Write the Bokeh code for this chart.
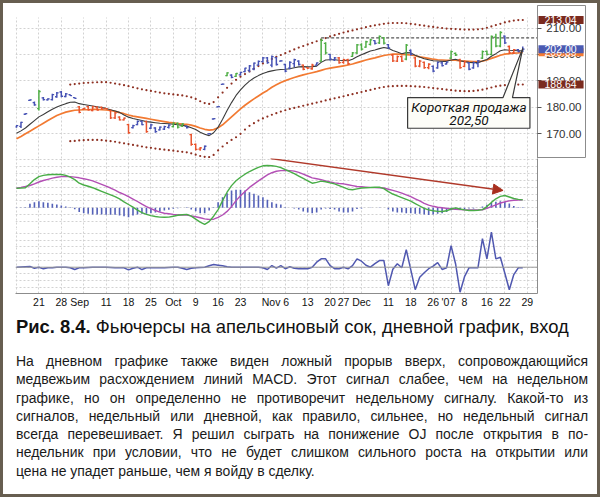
from bokeh.plotting import figure
from bokeh.models import (ColumnDataSource, Range1d, FixedTicker, PrintfTickFormatter,
                          Label, Arrow, NormalHead, Span, Div)
from bokeh.layouts import column, row
from bokeh.embed import file_html
from bokeh.resources import INLINE

# ---------------- data ----------------
tick_index = [5, 10, 14.1, 20, 25, 30, 35, 40, 45, 50, 57.8, 65, 70, 73, 77, 83, 88, 93, 96.4, 100, 105, 109, 114]
tick_labels = ["21", "28", "Sep", "11", "18", "25", "Oct", "9", "16", "23", "Nov 6", "13", "20", "27",
               "Dec", "11", "18", "26", "'07", "8", "16", "22", "29"]
grid_index = [0, 5, 10, 15, 20, 25, 30, 35, 40, 45, 50, 55, 60, 65, 70, 73, 77, 83, 88, 93, 97, 100, 105, 109, 114]
price_ticks = [170, 180, 190, 200, 210]

lows = [172.3, 172.2, 177.2, 182.4, 180.6, 178.8, 182.6, 182.6, 182.6, 183.6, 183.8, 183.8, 184.3, 183.3,
        177.8, 179.2, 178.8, 178.5, 178.8, 179.2, 179.3, 175.6, 175.6, 175.0, 175.0, 170.0, 172.0, 173.2,
        173.2, 170.4, 171.8, 170.4, 171.2, 171.4, 172.0, 172.4, 172.0, 172.6, 172.0, 165.5, 163.7, 163.6,
        163.8, 169.8, 175.4, 180.0, 188.5, 191.8, 191.0, 191.5, 192.0, 193.3, 193.3, 194.0, 195.8, 197.0,
        196.5, 195.2, 195.8, 197.3, 193.3, 194.4, 195.2, 195.8, 194.0, 194.5, 194.2, 195.8, 197.1, 200.0,
        197.7, 197.5, 196.5, 196.5, 196.0, 199.0, 200.2, 201.5, 202.5, 203.4, 203.8, 204.0, 203.8, 202.1,
        197.1, 197.1, 197.1, 197.8, 199.6, 195.2, 195.2, 194.6, 194.4, 193.3, 194.6, 195.4, 196.2, 198.3,
        199.4, 194.6, 195.2, 194.0, 194.6, 195.2, 198.3, 199.6, 199.6, 202.7, 202.7, 204.0, 200.2, 200.2,
        200.8, 200.9]
highs = [173.3, 174.6, 177.8, 183.0, 182.2, 186.6, 183.9, 183.4, 185.1, 185.8, 186.2, 185.4, 184.9, 183.8,
         180.5, 179.8, 180.6, 180.6, 180.4, 180.3, 179.8, 179.1, 178.3, 176.6, 176.2, 173.8, 173.4, 175.0,
         175.0, 175.0, 173.8, 172.5, 172.8, 173.0, 173.6, 174.3, 174.3, 174.0, 173.0, 170.0, 166.3, 165.0,
         165.6, 170.3, 175.9, 180.5, 189.0, 193.3, 192.5, 193.0, 193.5, 195.0, 196.0, 197.0, 197.7, 199.0,
         199.0, 199.6, 199.0, 197.8, 196.5, 197.4, 198.4, 197.8, 196.2, 195.2, 196.5, 197.0, 205.9, 204.6,
         200.2, 199.0, 199.0, 198.4, 198.4, 200.9, 204.0, 204.2, 205.2, 205.9, 205.4, 207.2, 206.6, 204.0,
         200.2, 199.6, 199.6, 204.0, 201.9, 199.0, 197.9, 197.3, 196.7, 195.8, 197.3, 197.3, 197.3, 201.5,
         200.7, 198.4, 197.7, 197.1, 197.3, 197.9, 201.5, 201.5, 207.2, 207.8, 208.8, 207.2, 203.4, 202.1,
         202.1, 203.0]
opens = [172.6, 172.8, 177.4, 182.6, 181.8, 179.5, 183.6, 182.8, 182.9, 184.0, 185.8, 184.1, 184.8, 183.7,
         180.2, 179.3, 180.3, 178.8, 180.1, 180.0, 179.6, 178.8, 176.0, 176.3, 175.3, 173.5, 172.3, 173.5,
         174.7, 174.6, 172.1, 172.2, 171.5, 171.8, 172.4, 172.7, 173.9, 172.9, 172.8, 169.7, 166.0, 164.2,
         164.1, 170.0, 175.6, 180.2, 188.7, 192.0, 192.2, 191.7, 192.3, 193.5, 194.0, 194.5, 196.0, 197.3,
         198.7, 196.0, 198.8, 197.5, 196.2, 194.8, 196.5, 197.5, 196.0, 195.0, 194.6, 196.0, 197.5, 204.2,
         200.0, 198.0, 198.7, 197.0, 198.0, 199.3, 200.6, 203.6, 202.8, 203.8, 205.2, 204.4, 206.3, 203.7,
         199.8, 197.5, 199.2, 198.2, 201.5, 198.7, 195.6, 197.0, 195.0, 195.5, 194.9, 196.8, 196.4, 198.6,
         200.4, 198.0, 195.5, 196.8, 194.9, 196.5, 198.6, 201.2, 200.0, 206.5, 203.2, 206.9, 203.0, 200.6,
         201.8, 201.2]
closes = [173.1, 174.3, 177.6, 182.8, 180.9, 186.0, 182.9, 183.2, 184.8, 185.5, 184.2, 185.1, 184.4, 183.4,
          178.1, 179.6, 179.1, 180.3, 179.0, 179.4, 179.4, 176.0, 177.9, 175.3, 175.9, 170.4, 173.1, 174.7,
          173.5, 170.8, 173.4, 170.8, 172.5, 172.7, 173.3, 174.0, 172.5, 173.7, 172.3, 166.0, 164.1, 164.7,
          165.3, 170.1, 175.7, 180.3, 188.8, 193.0, 191.3, 192.8, 193.2, 194.8, 195.7, 196.7, 197.4, 198.7,
          196.9, 199.2, 196.2, 197.6, 193.7, 197.0, 198.0, 196.2, 194.4, 194.8, 196.0, 196.8, 205.3, 200.6,
          198.2, 198.7, 196.9, 198.0, 196.5, 200.6, 203.6, 202.0, 204.8, 205.5, 204.2, 206.8, 204.3, 202.5,
          197.6, 199.2, 197.5, 203.5, 200.0, 195.6, 197.5, 195.0, 196.3, 193.7, 197.0, 195.8, 197.1, 201.1,
          199.8, 195.0, 197.3, 194.4, 196.9, 197.6, 201.1, 200.0, 206.8, 203.2, 208.3, 204.4, 200.6, 201.8,
          201.1, 202.0]
impulse = list("bbbbbgbbbbbbbbrrrrrrrrrrrrbbbrbbbbbgggbrrrbbbbbgbgbbbbbbbbbbbbbbrrrbggbbrrrgggggbggbrrrgbrrrrbbbbggrrbbbgggggbrrbb")

ema_fast = [170.2, 171.1, 172.2, 173.6, 175.0, 176.4, 177.3, 178.3, 179.3, 180.1, 180.8, 181.4, 181.9, 182.0,
            181.4, 181.1, 180.8, 180.5, 180.2, 179.9, 179.6, 179.1, 178.6, 178.1, 177.1, 176.3, 175.8, 175.4,
            175.0, 174.6, 174.4, 174.2, 174.0, 173.9, 173.8, 173.6, 173.4, 173.2, 172.9, 172.3, 171.6, 170.6,
            169.8, 169.3, 170.4, 172.5, 175.5, 178.8, 181.8, 184.5, 186.6, 188.4, 189.9, 191.1, 192.0, 192.8,
            193.4, 193.8, 194.1, 194.3, 194.4, 194.6, 195.0, 195.3, 195.4, 195.3, 195.4, 195.6, 197.0, 197.9,
            198.0, 198.0, 197.8, 197.7, 197.6, 198.2, 199.1, 199.9, 200.6, 201.3, 201.7, 202.2, 202.6, 202.3,
            201.5, 200.9, 200.3, 200.7, 200.6, 199.7, 199.0, 198.4, 198.0, 197.6, 197.5, 197.4, 197.4, 197.9,
            198.2, 197.6, 197.3, 197.0, 196.9, 196.9, 197.5, 198.1, 199.3, 200.3, 201.4, 201.8, 201.6, 201.5,
            201.4, 201.4]
ema_slow = [168.1, 169.0, 170.0, 171.0, 172.0, 173.0, 174.0, 175.0, 176.0, 176.9, 177.6, 178.2, 178.6, 178.9,
            179.0, 179.1, 179.1, 179.2, 179.2, 179.1, 179.0, 178.8, 178.5, 178.0, 177.6, 177.1, 176.7, 176.4,
            176.1, 175.8, 175.5, 175.2, 174.9, 174.6, 174.3, 174.1, 173.9, 173.7, 173.6, 173.3, 172.8, 172.2,
            171.7, 171.4, 171.6, 172.3, 173.4, 174.9, 176.4, 177.9, 179.4, 180.8, 182.0, 183.2, 184.3, 185.4,
            186.4, 187.6, 188.5, 189.4, 190.1, 190.7, 191.3, 191.8, 192.3, 192.7, 193.1, 193.5, 194.0, 194.5,
            194.8, 195.1, 195.4, 195.7, 196.0, 196.4, 196.9, 197.4, 197.9, 198.3, 198.7, 199.2, 199.6, 199.9,
            200.1, 200.1, 200.0, 199.9, 199.8, 199.5, 199.1, 198.8, 198.5, 198.2, 198.0, 197.9, 197.8, 197.8,
            197.8, 197.6, 197.5, 197.4, 197.3, 197.3, 197.5, 197.9, 198.5, 199.1, 199.7, 200.1, 200.3, 200.5,
            200.6, 200.8]

env_start = 12
env_upper = [188.6, 188.8, 189.0, 189.2, 189.3, 189.4, 189.5, 189.5, 189.5, 189.3, 189.0, 188.7, 188.4, 188.0,
             187.6, 187.2, 186.8, 186.5, 186.2, 185.9, 185.6, 185.3, 185.1, 184.9, 184.7, 184.5, 184.2, 183.8,
             183.2, 182.3, 181.6, 181.3, 182.0, 183.8, 185.6, 187.4, 189.0, 190.4, 191.6, 192.6, 193.6, 194.6,
             195.6, 196.6, 197.5, 198.3, 199.1, 199.8, 200.5, 201.2, 201.9, 202.6, 203.2, 203.8, 204.4, 205.0,
             205.6, 206.2, 206.8, 207.3, 207.8, 208.3, 208.7, 209.1, 209.5, 209.9, 210.3, 210.7, 211.0, 211.3,
             211.6, 211.8, 211.9, 211.9, 211.9, 211.8, 211.6, 211.4, 211.1, 210.9, 210.6, 210.4, 210.2, 210.0,
             209.8, 209.7, 209.6, 209.5, 209.4, 209.4, 209.4, 209.5, 209.7, 210.1, 210.6, 211.1, 211.6, 212.1,
             212.5, 212.8, 213.0, 213.04]
env_lower = [167.2, 167.3, 167.5, 167.6, 167.7, 167.7, 167.7, 167.6, 167.4, 167.2, 167.0, 166.7, 166.4, 166.1,
             165.8, 165.5, 165.2, 164.9, 164.7, 164.4, 164.2, 164.0, 163.8, 163.6, 163.4, 163.2, 163.0, 162.6,
             162.1, 161.6, 161.3, 161.2, 162.0, 163.7, 165.2, 166.5, 167.7, 168.7, 170.0, 171.6, 173.0, 174.0,
             175.0, 175.8, 176.5, 177.2, 177.8, 178.4, 178.9, 179.4, 179.8, 180.2, 180.6, 181.0, 181.4, 181.8,
             182.2, 182.6, 183.0, 183.4, 183.8, 184.2, 184.6, 185.0, 185.4, 185.8, 186.2, 186.6, 187.0, 187.4,
             187.7, 187.9, 188.0, 188.1, 188.1, 188.1, 188.0, 187.9, 187.8, 187.7, 187.5, 187.3, 187.1, 186.9,
             186.7, 186.5, 186.3, 186.2, 186.1, 186.1, 186.2, 186.4, 186.7, 187.1, 187.5, 187.9, 188.2, 188.4,
             188.5, 188.6, 188.6, 188.64]

resistance_level = 206.3
resistance_start = 68
entry_price = 202.3

macd_line = [3.27, 3.3, 3.35, 4.0, 4.7, 5.2, 5.4, 5.5, 5.55, 5.56, 5.55, 5.4, 5.1, 4.7, 4.1, 3.8, 3.6, 3.35,
             3.05, 2.75, 2.45, 2.15, 1.85, 1.5, 1.0, 0.55, 0.1, -0.4, -0.8, -1.1, -1.3, -1.45, -1.55, -1.58,
             -1.55, -1.4, -1.25, -1.15, -1.1, -1.4, -1.9, -2.4, -2.75, -2.3, -1.4, -0.3, 1.2, 2.6, 3.7, 4.5,
             5.1, 5.6, 6.05, 6.4, 6.75, 7.0, 7.05, 7.0, 6.9, 6.7, 6.35, 6.05, 5.7, 5.3, 4.9, 4.5, 4.1, 4.25,
             4.45, 4.35, 4.15, 4.0, 3.7, 3.4, 3.1, 3.0, 3.15, 3.3, 3.35, 3.38, 3.42, 3.44, 3.2, 2.7, 2.3, 2.0,
             1.7, 1.4, 1.1, 0.7, 0.3, -0.1, -0.35, -0.5, -0.6, -0.62, -0.5, -0.2, 0.0, -0.2, -0.35, -0.44,
             -0.45, -0.4, -0.3, 0.2, 0.9, 1.5, 1.9, 2.05, 1.8, 1.55, 1.4, 1.33]
macd_signal = [3.27, 3.4, 3.55, 3.72, 4.0, 4.3, 4.55, 4.75, 4.95, 5.1, 5.2, 5.23, 5.2, 5.12, 5.0, 4.85, 4.7,
               4.5, 4.2, 3.9, 3.6, 3.3, 2.95, 2.55, 2.25, 1.85, 1.45, 1.05, 0.6, 0.2, -0.15, -0.45, -0.72,
               -0.9, -1.0, -1.1, -1.17, -1.2, -1.22, -1.35, -1.5, -1.65, -1.85, -1.95, -1.9, -1.6, -1.2, -0.6,
               0.2, 1.2, 2.0, 2.7, 3.4, 3.95, 4.5, 5.0, 5.5, 5.85, 6.1, 6.2, 6.22, 6.2, 6.12, 5.9, 5.6, 5.3,
               5.0, 4.85, 4.7, 4.5, 4.3, 4.15, 4.05, 4.0, 3.85, 3.7, 3.55, 3.5, 3.45, 3.4, 3.37, 3.35, 3.3,
               3.1, 2.9, 2.7, 2.45, 2.15, 1.85, 1.5, 1.15, 0.75, 0.45, 0.25, 0.1, 0.0, -0.1, -0.2, -0.25,
               -0.3, -0.33, -0.34, -0.35, -0.35, -0.33, -0.1, 0.2, 0.5, 0.8, 1.0, 1.15, 1.25, 1.3, 1.33]
macd_hist = [0.05, 0.05, 0.1, 0.67, 0.94, 1.1, 0.94, 0.83, 0.67, 0.56, 0.39, 0.22, 0.11, -0.22, -0.72, -0.9,
             -1.0, -1.1, -1.1, -1.1, -1.17, -1.17, -1.17, -1.28, -1.39, -1.56, -1.28, -1.1, -1.0, -1.0, -0.89,
             -0.78, -0.67, -0.44, -0.33, -0.17, -0.06, 0.03, 0.11, -0.28, -0.56, -0.89, -0.89, -0.44, 0.11,
             0.94, 1.78, 2.44, 2.89, 3.0, 3.0, 2.89, 2.61, 2.33, 2.06, 1.78, 1.33, 0.94, 0.67, 0.56, 0.1,
             0.0, -0.1, -0.3, -0.6, -0.8, -0.9, -0.8, -0.3, -0.1, -0.2, -0.3, -0.6, -0.8, -0.8, -0.6, -0.2,
             -0.1, 0.0, 0.05, 0.0, 0.05, 0.0, -0.3, -0.6, -0.8, -0.8, -0.9, -0.9, -1.0, -1.0, -1.1, -1.2,
             -1.1, -1.0, -0.9, -0.7, -0.4, -0.2, -0.3, -0.2, -0.1, -0.1, 0.0, 0.2, 0.5, 0.8, 1.0, 1.1, 1.0,
             0.7, 0.3, 0.1, 0.1]
force = [0.0, 0.05, 0.1, 0.13, -0.2, 0.0, -0.33, -0.13, -0.1, 0.0, 0.0, 0.0, -0.1, -0.47, -0.13, -0.13,
         -0.05, 0.0, 0.0, 0.0, 0.0, -0.05, -0.1, -0.13, -0.13, -0.53, -0.2, 0.0, -0.47, -0.13, -0.13, -0.1,
         -0.13, -0.13, -0.05, 0.0, 0.0, -0.2, -0.47, -0.2, -0.13, -0.05, 0.0, 0.3, 0.53, 0.4, 0.27, 0.1,
         0.0, 0.0, 0.0, 0.0, 0.0, 0.0, 0.0, -0.1, -0.47, 0.33, -0.2, 0.3, -0.3, 0.1, -0.2, -0.3, -0.3,
         -0.3, 0.0, 1.0, 1.67, 1.67, 0.33, -0.3, -0.3, 0.0, -0.33, 0.33, 1.67, 1.2, 0.4, 0.0, 0.7, 1.33,
         1.33, -3.7, -0.4, 0.7, -0.1, 3.5, -0.5, -4.5, -2.0, -1.1, -0.3, 0.2, 0.9, -0.45, -0.13, 4.3,
         0.7, -5.0, -1.9, -0.13, -0.13, -0.13, 5.7, 1.67, 7.0, 1.67, 2.0, -1.2, -4.5, -1.47, -0.13, -0.1]

# --------------- styling ---------------
FONT = "Liberation Sans"
impulse_colors = {"g": "#4fae45", "b": "#4652b4", "r": "#e8532c"}
GRID = "#d2d2d2"
AXIS = "#8c8c8c"

n = len(highs)
idx = list(range(n))
xr = Range1d(-0.223, 116.29)
price_bottom = 160.66
price_grid_top = 213.97
price_range = Range1d(price_bottom, 218.51)

bars = ColumnDataSource(dict(
    x=idx, xl=[i - 0.4 for i in idx], xr=[i + 0.4 for i in idx],
    low=lows, high=highs, open=opens, close=closes,
    color=[impulse_colors[c] for c in impulse],
    fast=ema_fast, slow=ema_slow,
))


def style_grid(p):
    p.xgrid.ticker = FixedTicker(ticks=grid_index)
    for g in (p.xgrid, p.ygrid):
        g.grid_line_color = GRID
        g.grid_line_dash = "2 2"
        g.grid_line_width = 1


def base_fig(height, y_range, top=0, bottom=0, xaxis=None):
    p = figure(width=594, height=height, x_range=xr, y_range=y_range,
               x_axis_location=xaxis, y_axis_location="right",
               output_backend="svg", toolbar_location=None,
               min_border_left=12, min_border_right=60,
               min_border_top=top, min_border_bottom=bottom)
    p.outline_line_color = None
    p.background_fill_color = "white"
    p.border_fill_color = "white"
    style_grid(p)
    p.yaxis.axis_line_color = AXIS
    p.yaxis.minor_tick_line_color = None
    return p


# ---- price panel (plot area) ----
p1 = figure(width=534, height=155, x_range=xr, y_range=price_range,
            x_axis_location=None, y_axis_location=None,
            output_backend="svg", toolbar_location=None,
            min_border_left=12, min_border_right=0, min_border_top=2, min_border_bottom=0)
p1.outline_line_color = None
style_grid(p1)
p1.ygrid.ticker = FixedTicker(ticks=price_ticks)
try:
    p1.xgrid.cross_bounds = (price_bottom, price_grid_top)
except Exception:
    pass

env_x = list(range(env_start, env_start + len(env_upper)))
p1.scatter(env_x, env_upper, size=2.2, color="#8e3022", line_width=0)
p1.scatter(env_x, env_lower, size=2.2, color="#8e3022", line_width=0)
p1.segment(x0=resistance_start, y0=resistance_level, x1=xr.end, y1=resistance_level,
           line_color="#555555", line_dash="3 2", line_width=1.2)
p1.line("x", "slow", source=bars, line_color="#f27a32", line_width=1.7)
p1.line("x", "fast", source=bars, line_color="#3b3b3b", line_width=1.1)
p1.segment("x", "low", "x", "high", source=bars, line_color="color", line_width=1.5)
p1.segment("xl", "open", "x", "open", source=bars, line_color="color", line_width=1.3)
p1.segment("x", "close", "xr", "close", source=bars, line_color="color", line_width=1.3)

# callout
call_x = [87.3, 108.6, n - 1, 110.7, 114.6, 114.6, 87.3]
call_y = [183.7, 183.7, entry_price, 183.7, 183.7, 172.1, 172.1]
p1.patch(call_x, call_y, fill_color="#fdfdf8", line_color="#3a3a3a", line_width=1.2)
for ly, txt in [(180.0, "Короткая продажа"), (175.0, "202,50")]:
    p1.add_layout(Label(x=101, y=ly, text=txt, text_align="center",
                        text_baseline="middle", text_font="Roboto", text_font_style="italic",
                        text_font_size="13.5px", text_color="#111111"))

# ---- price axis strip (right of the plot area), same price scale ----
pa = figure(width=60, height=155, x_range=Range1d(0, 1), y_range=price_range,
            x_axis_location=None, y_axis_location="left",
            output_backend="svg", toolbar_location=None,
            min_border_left=0, min_border_right=12, min_border_top=2, min_border_bottom=0)
pa.xgrid.visible = False
pa.ygrid.visible = False
pa.outline_line_color = AXIS
pa.yaxis.ticker = FixedTicker(ticks=price_ticks)
pa.yaxis.formatter = PrintfTickFormatter(format="%.2f")
pa.yaxis.axis_line_color = AXIS
pa.yaxis.major_tick_in = 4
pa.yaxis.major_tick_out = 0
pa.yaxis.minor_tick_line_color = None
pa.yaxis.major_tick_line_color = "#555555"
pa.yaxis.major_label_standoff = -44
pa.yaxis.major_label_text_font = FONT
pa.yaxis.major_label_text_font_size = "11.5px"
pa.yaxis.major_label_text_color = "#333333"

for val, txt, col in [(ema_slow[-1], f"{ema_slow[-1]:.2f}", "#f27a32"),
                      (closes[-1], f"{closes[-1]:.2f}", "#4a5ab2"),
                      (env_upper[-1], f"{env_upper[-1]:.2f}", "#7a2a1e"),
                      (env_lower[-1], f"{env_lower[-1]:.2f}", "#7a2a1e")]:
    try:
        lab = Label(x=0.02, y=val, text=txt, text_align="left", text_baseline="middle",
                    text_font=FONT, text_font_size="10.5px", text_color="white",
                    background_fill_color=col, padding=dict(left=6, right=7, top=0, bottom=0))
    except Exception:
        lab = Label(x=0.02, y=val, text=txt, text_align="left", text_baseline="middle",
                    text_font=FONT, text_font_size="10.5px", text_color="white",
                    background_fill_color=col, padding=3)
    pa.add_layout(lab)

# ---- MACD panel ----
p2 = base_fig(70, Range1d(-3.45, 8.22))
macd_ticks = [-2.3, -1.15, 0, 1.15, 2.3, 3.45, 4.6, 5.75, 6.9, 8.05]
p2.yaxis.ticker = FixedTicker(ticks=macd_ticks)
p2.ygrid.ticker = FixedTicker(ticks=macd_ticks)
p2.yaxis.major_label_text_color = None
p2.yaxis.major_tick_line_color = None
msrc = ColumnDataSource(dict(x=idx, m=macd_line, s=macd_signal, h=macd_hist))
p2.vbar(x="x", top="h", bottom=0, width=0.36, source=msrc, fill_color="#5562b8", line_color=None)
p2.line("x", "s", source=msrc, line_color="#b34fb5", line_width=1.4)
p2.line("x", "m", source=msrc, line_color="#49ad47", line_width=1.4)
p2.add_layout(Arrow(end=NormalHead(size=10, fill_color="#a8301f", line_color="#a8301f"),
                    x_start=56.7, y_start=8.2, x_end=108.6, y_end=2.9,
                    line_color="#b0392a", line_width=1.5))

# ---- Force panel ----
p3 = base_fig(85, Range1d(-5.26, 7.74), bottom=20, xaxis="below")
force_ticks = [-4.05, -2.7, -1.35, 0, 1.35, 2.7, 4.05, 5.4, 6.75]
p3.yaxis.ticker = FixedTicker(ticks=force_ticks)
p3.ygrid.ticker = FixedTicker(ticks=force_ticks)
p3.yaxis.major_label_text_color = None
p3.yaxis.major_tick_line_color = None
p3.add_layout(Span(location=0, dimension="width", line_color="#9a9a9a", line_width=1))
p3.line(idx, force, line_color="#5058b0", line_width=1.5)
p3.xaxis.ticker = FixedTicker(ticks=tick_index)
p3.xaxis.major_label_overrides = {t: l for t, l in zip(tick_index, tick_labels)}
p3.xaxis.axis_line_color = AXIS
p3.xaxis.major_tick_line_color = None
p3.xaxis.major_tick_out = 0
p3.xaxis.major_tick_in = 0
p3.xaxis.minor_tick_line_color = None
p3.xaxis.minor_tick_out = 0
p3.xaxis.major_label_standoff = 2
p3.xaxis.major_label_text_font = FONT
p3.xaxis.major_label_text_font_size = "10.5px"
p3.xaxis.major_label_text_color = "#111111"

# ---- caption and text ----
caption = Div(text=("<div style=\"font-family:'Liberation Sans',Arial,sans-serif;font-size:18.4px;"
                    "line-height:28px;color:#111;padding-left:13px;white-space:nowrap;\">"
                    "<b>Рис. 8.4.</b> Фьючерсы на апельсиновый сок, дневной график, вход</div>"),
              width=594, height=34, margin=(0, 0, 0, 0))

para_lines = [
    "На дневном графике также виден ложный прорыв вверх, сопровождающийся",
    "медвежьим расхождением линий MACD. Этот сигнал слабее, чем на недельном",
    "графике, но он определенно не противоречит недельному сигналу. Какой-то из",
    "сигналов, недельный или дневной, как правило, сильнее, но недельный сигнал",
    "всегда перевешивает. Я решил сыграть на понижение OJ после открытия в по-",
    "недельник при условии, что не будет слишком сильного роста на открытии или",
    "цена не упадет раньше, чем я войду в сделку.",
]
SCALE = 0.9
body = "".join(
    f"<div style=\"white-space:nowrap;width:{572 / SCALE:.1f}px;transform:scaleX({SCALE});"
    f"transform-origin:0 0;text-align:justify;"
    f"text-align-last:{'justify' if k < len(para_lines) - 1 else 'left'};\">{t}</div>"
    for k, t in enumerate(para_lines))
para = Div(text=("<div style=\"font-family:'Liberation Sans',Arial,sans-serif;font-size:15.5px;"
                 "line-height:18.3px;color:#1a1a1a;padding:5px 0 0 13px;\">" + body + "</div>"),
           width=594, height=147, margin=(0, 0, 0, 0))

page = column(row(p1, pa, spacing=0), p2, p3, caption, para, spacing=0,
              styles={"border": "3px solid #675e50", "background-color": "white"})

open("out.html", "w").write(file_html(page, INLINE))
